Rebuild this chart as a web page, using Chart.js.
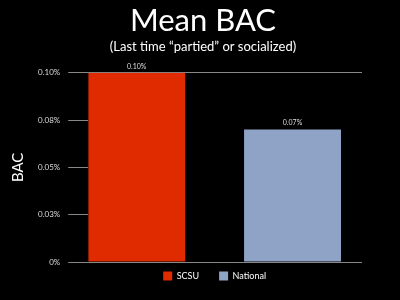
<!DOCTYPE html>
<html>
<head>
<meta charset="utf-8">
<script src="https://cdn.jsdelivr.net/npm/chart.js@4/dist/chart.umd.min.js"></script>
<style>
  html, body { margin: 0; padding: 0; background: #000; }
  #wrap { width: 400px; height: 300px; }
</style>
</head>
<body>
<div id="wrap"><canvas id="chart" width="400" height="300"></canvas></div>
<script>
const seriesNames = ['SCSU', 'National'];
const seriesValues = [0.10, 0.07];
const seriesColors = ['#e02a00', '#8fa3c6'];
const yTickValues = [0, 0.025, 0.05, 0.075, 0.10];
const yTickLabels = ['0%', '0.03%', '0.05%', '0.08%', '0.10%'];

const FONT = 'Lato, "DejaVu Sans", sans-serif';

// only the top and bottom lines run across the plot
const edgeLine = ctx => (ctx.index === 0 || ctx.index === yTickValues.length - 1) ? '#888' : 'rgba(0,0,0,0)';

// value labels above each bar
const barLabels = {
  id: 'barLabels',
  afterDatasetsDraw(chart) {
    const ctx = chart.ctx;
    ctx.save();
    ctx.fillStyle = '#ddd';
    ctx.font = '7px ' + FONT;
    ctx.textAlign = 'center';
    ctx.textBaseline = 'bottom';
    chart.data.datasets.forEach((ds, i) => {
      const bar = chart.getDatasetMeta(i).data[0];
      ctx.fillText(ds.data[0].toFixed(2) + '%', bar.x, bar.y - 3);
    });
    ctx.restore();
  }
};

new Chart(document.getElementById('chart'), {
  type: 'bar',
  data: {
    labels: [''],
    datasets: seriesNames.map((name, i) => ({
      label: name,
      data: [seriesValues[i]],
      backgroundColor: seriesColors[i],
      categoryPercentage: 1.233,
      barPercentage: 0.622
    }))
  },
  options: {
    responsive: false,
    animation: false,
    layout: { padding: { left: 6, right: 0, top: 0, bottom: -1 } },
    plugins: {
      title: {
        display: true,
        text: 'Mean BAC',
        color: '#fff',
        font: { family: FONT, size: 31, weight: 'normal' },
        padding: { top: 2, bottom: 0 }
      },
      subtitle: {
        display: true,
        text: '(Last time \u201cpartied\u201d or socialized)',
        color: '#fff',
        font: { family: FONT, size: 13, weight: 'normal' },
        padding: { top: 0, bottom: 18 }
      },
      legend: {
        position: 'bottom',
        fullSize: false,
        labels: {
          color: '#fff',
          font: { family: FONT, size: 9 },
          boxWidth: 9,
          boxHeight: 9,
          padding: 20
        }
      },
      tooltip: { enabled: false }
    },
    scales: {
      x: {
        ticks: { display: false },
        grid: { display: false },
        border: { display: false },
        // pull the legend up under the plot
        afterFit: axis => { axis.height = -10.5; }
      },
      y: {
        min: 0,
        max: 0.10,
        afterBuildTicks: axis => { axis.ticks = yTickValues.map(v => ({ value: v })); },
        ticks: {
          color: '#ddd',
          font: { family: FONT, size: 8 },
          padding: 8,
          callback: (v, i) => yTickLabels[i]
        },
        grid: {
          tickLength: 20,
          tickColor: '#888',
          color: edgeLine
        },
        border: { display: false },
        title: {
          display: true,
          text: 'BAC',
          color: '#fff',
          font: { family: FONT, size: 15 },
          padding: { top: 3, bottom: 3 }
        }
      },
      // right-hand spacer: the plot ends early, its top and bottom lines run on
      spacer: {
        position: 'right',
        min: 0,
        max: 0.10,
        afterBuildTicks: axis => { axis.ticks = yTickValues.map(v => ({ value: v })); },
        ticks: { display: false },
        grid: { drawOnChartArea: false, tickLength: 21, tickColor: edgeLine },
        border: { display: false },
        afterFit: axis => { axis.width = 59; }
      }
    }
  },
  plugins: [barLabels]
});
</script>
</body>
</html>
